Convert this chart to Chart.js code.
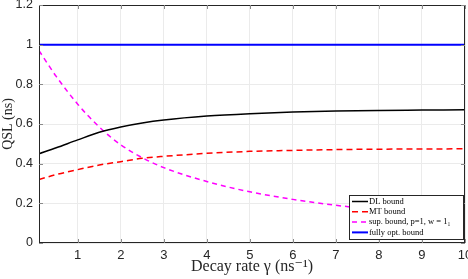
<!DOCTYPE html>
<html>
<head>
<meta charset="utf-8">
<script src="https://cdn.jsdelivr.net/npm/chart.js@4/dist/chart.umd.min.js"></script>
<style>
  html, body { margin: 0; padding: 0; background: #fff; }
  #wrap { width: 468px; height: 279px; }
</style>
</head>
<body>
<div id="wrap"><canvas id="qslChart" width="468" height="279"></canvas></div>
<script>
// decay rate values (ns^-1)
var gammaVals = [0.1, 0.5, 1, 1.5, 2, 2.5, 3, 4, 5, 6, 7, 8, 9, 10];
var dlBound   = [0.45, 0.48, 0.52, 0.558, 0.585, 0.605, 0.62, 0.64, 0.652, 0.66, 0.665, 0.668, 0.67, 0.672];
var mtBound   = [0.32, 0.345, 0.37, 0.393, 0.41, 0.427, 0.437, 0.452, 0.462, 0.467, 0.471, 0.473, 0.474, 0.475];
var supBound  = [0.97, 0.84, 0.70, 0.585, 0.495, 0.43, 0.38, 0.31, 0.258, 0.22, 0.19, 0.168, 0.15, 0.133];
var optBound  = [1, 1, 1, 1, 1, 1, 1, 1, 1, 1, 1, 1, 1, 1];
var xTicks = [1, 2, 3, 4, 5, 6, 7, 8, 9, 10];
var yTicks = [0, 0.2, 0.4, 0.6, 0.8, 1, 1.2];

function toXY(ys) {
    return gammaVals.map(function (g, i) { return { x: g, y: ys[i] }; });
}

// box, inward ticks and legend like the matlab figure
var boxPlugin = {
    id: 'boxPlugin',
    afterDraw: function (chart) {
        var ctx = chart.ctx;
        var a = chart.chartArea;
        var xs = chart.scales.x, ys = chart.scales.y;
        ctx.save();
        ctx.strokeStyle = '#262626';
        ctx.lineWidth = 1;
        ctx.strokeRect(a.left + 0.5, a.top + 0.5, a.right - a.left - 1, a.bottom - a.top - 1);
        ctx.strokeStyle = '#8a8a8a';
        xTicks.forEach(function (t) {
            var px = Math.round(xs.getPixelForValue(t)) + 0.5;
            ctx.beginPath();
            ctx.moveTo(px, a.bottom); ctx.lineTo(px, a.bottom - 4);
            ctx.moveTo(px, a.top); ctx.lineTo(px, a.top + 4);
            ctx.stroke();
        });
        yTicks.forEach(function (t) {
            var py = Math.round(ys.getPixelForValue(t)) + 0.5;
            ctx.beginPath();
            ctx.moveTo(a.left, py); ctx.lineTo(a.left + 4, py);
            ctx.moveTo(a.right, py); ctx.lineTo(a.right - 4, py);
            ctx.stroke();
        });

        // legend in lower right corner
        var lx = 349, ly = 195, lw = 114, lh = 44;
        ctx.fillStyle = '#fff';
        ctx.fillRect(lx, ly, lw, lh);
        ctx.strokeStyle = '#262626';
        ctx.strokeRect(lx + 0.5, ly + 0.5, lw, lh);
        ctx.font = '8.5px "Liberation Serif", "DejaVu Serif", serif';
        ctx.textBaseline = 'middle';
        chart.data.datasets.forEach(function (ds, i) {
            var yy = ly + 6.5 + i * 10.3;
            ctx.strokeStyle = ds.borderColor;
            ctx.lineWidth = ds.borderWidth;
            ctx.setLineDash(ds.borderDash || []);
            ctx.beginPath();
            ctx.moveTo(lx + 3, yy); ctx.lineTo(lx + 19, yy);
            ctx.stroke();
            ctx.setLineDash([]);
            ctx.fillStyle = '#000';
            ctx.fillText(ds.label, lx + 20, yy);
        });
        ctx.restore();
    }
};

function plainTick(v) { return String(v); }

var ctx = document.getElementById('qslChart').getContext('2d');
var qslChart = new Chart(ctx, {
    type: 'line',
    data: {
        datasets: [{
            label: 'DL bound',
            data: toXY(dlBound),
            borderColor: '#000000',
            borderWidth: 1.5
        }, {
            label: 'MT bound',
            data: toXY(mtBound),
            borderColor: '#ff0000',
            borderWidth: 1.5,
            borderDash: [6, 4]
        }, {
            label: 'sup. bound, p=1, w = 1\u2081',
            data: toXY(supBound),
            borderColor: '#ff00ff',
            borderWidth: 1.5,
            borderDash: [5, 4]
        }, {
            label: 'fully opt. bound',
            data: toXY(optBound),
            borderColor: '#0000ff',
            borderWidth: 2
        }]
    },
    options: {
        responsive: false,
        animation: false,
        layout: { padding: { top: 5, right: 3, left: 0, bottom: 0 } },
        elements: { point: { radius: 0 }, line: { cubicInterpolationMode: 'monotone' } },
        plugins: {
            legend: { display: false },
            tooltip: { enabled: false }
        },
        scales: {
            x: {
                type: 'linear',
                min: 0.1,
                max: 10,
                afterBuildTicks: function (s) { s.ticks = xTicks.map(function (v) { return { value: v }; }); },
                afterFit: function (s) { s.height = 36; s.paddingLeft = 0; s.paddingRight = 0; },
                grid: { color: '#ebebeb', drawTicks: false },
                border: { display: false },
                ticks: {
                    padding: 5,
                    color: '#262626',
                    maxRotation: 0,
                    callback: plainTick,
                    font: { family: '"Liberation Sans", Arial, sans-serif', size: 13 }
                },
                title: {
                    display: true,
                    text: 'Decay rate \u03b3 (ns\u207b\u00b9)',
                    color: '#262626',
                    padding: { top: 0, bottom: 3 },
                    font: { family: '"Liberation Serif", "DejaVu Serif", serif', size: 16 }
                }
            },
            y: {
                min: 0,
                max: 1.2,
                afterBuildTicks: function (s) { s.ticks = yTicks.map(function (v) { return { value: v }; }); },
                afterFit: function (s) { s.width = 39; s.paddingTop = 0; s.paddingBottom = 0; },
                grid: { color: '#ebebeb', drawTicks: false },
                border: { display: false },
                ticks: {
                    padding: 6,
                    color: '#262626',
                    callback: plainTick,
                    font: { family: '"Liberation Sans", Arial, sans-serif', size: 12.5 }
                },
                title: {
                    display: true,
                    text: 'QSL (ns)',
                    color: '#262626',
                    padding: { top: 0, bottom: 0 },
                    font: { family: '"Liberation Serif", "DejaVu Serif", serif', size: 14 }
                }
            }
        }
    },
    plugins: [boxPlugin]
});
</script>
</body>
</html>
